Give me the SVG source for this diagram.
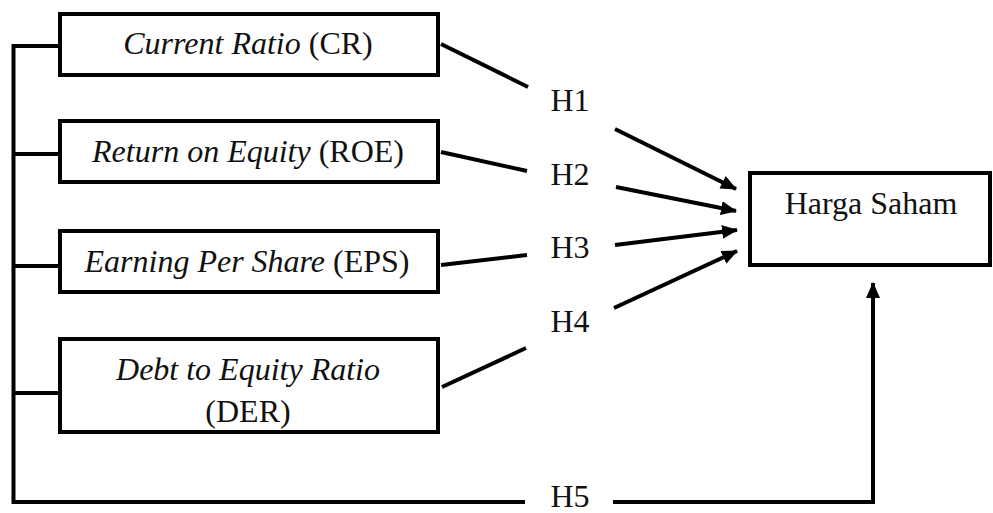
<svg xmlns="http://www.w3.org/2000/svg" width="993" height="513" viewBox="0 0 993 513">
  <style>
    .box { fill: #fff; stroke: #000; stroke-width: 4; }
    .ln { fill: none; stroke: #000; stroke-width: 4; }
    .lbl { fill: #111; text-anchor: middle; }
    .i { font-style: italic; }
  </style>
  <defs>
    <marker id="ah" markerUnits="userSpaceOnUse" markerWidth="16" markerHeight="14" refX="15" refY="7" orient="auto">
      <path d="M0,0 L16,7 L0,14 z" fill="#000"/>
    </marker>
  </defs>
  <rect width="993" height="513" fill="#fff"/>

  <g id="connectors">
    <path class="ln" d="M13.5,44 V502 H525"/>
    <path class="ln" d="M613,502 H873 V283" marker-end="url(#ah)"/>
    <line class="ln" x1="13.5" y1="46" x2="60" y2="46"/>
    <line class="ln" x1="13.5" y1="154" x2="60" y2="154"/>
    <line class="ln" x1="13.5" y1="266" x2="60" y2="266"/>
    <line class="ln" x1="13.5" y1="393" x2="60" y2="393"/>
    <line class="ln" x1="441" y1="44" x2="528" y2="87"/>
    <line class="ln" x1="441" y1="152" x2="527" y2="171"/>
    <line class="ln" x1="441" y1="265" x2="527" y2="255"/>
    <line class="ln" x1="442" y1="387" x2="526" y2="348"/>
    <line class="ln" x1="615" y1="129" x2="736" y2="189" marker-end="url(#ah)"/>
    <line class="ln" x1="616" y1="187" x2="736" y2="211" marker-end="url(#ah)"/>
    <line class="ln" x1="615" y1="245" x2="737" y2="230" marker-end="url(#ah)"/>
    <line class="ln" x1="614" y1="308" x2="737" y2="251" marker-end="url(#ah)"/>
    <text class="lbl" font-family="Liberation Serif" font-size="32" x="570" y="111">H1</text>
    <text class="lbl" font-family="Liberation Serif" font-size="32" x="570" y="185">H2</text>
    <text class="lbl" font-family="Liberation Serif" font-size="32" x="570" y="258">H3</text>
    <text class="lbl" font-family="Liberation Serif" font-size="32" x="570" y="332">H4</text>
    <text class="lbl" font-family="Liberation Serif" font-size="32" x="570" y="507">H5</text>
  </g>

  <g id="cr">
    <rect class="box" x="60" y="14" width="378" height="61"/>
    <text class="lbl" font-family="Liberation Serif" font-size="32" x="248" y="54"><tspan class="i">Current Ratio</tspan> (CR)</text>
  </g>
  <g id="roe">
    <rect class="box" x="60" y="121" width="378" height="61"/>
    <text class="lbl" font-family="Liberation Serif" font-size="32" x="248" y="162"><tspan class="i">Return on Equity</tspan> (ROE)</text>
  </g>
  <g id="eps">
    <rect class="box" x="60" y="231" width="378" height="61"/>
    <text class="lbl" font-family="Liberation Serif" font-size="32" x="247" y="272"><tspan class="i">Earning Per Share</tspan> (EPS)</text>
  </g>
  <g id="der">
    <rect class="box" x="60" y="339" width="378" height="93"/>
    <text class="lbl" font-family="Liberation Serif" font-size="32" x="248" y="380"><tspan class="i">Debt to Equity Ratio</tspan></text>
    <text class="lbl" font-family="Liberation Serif" font-size="32" x="248" y="422">(DER)</text>
  </g>
  <g id="harga">
    <rect class="box" x="750" y="173" width="240" height="92"/>
    <text class="lbl" font-family="Liberation Serif" font-size="32" x="871" y="214">Harga Saham</text>
  </g>
</svg>
